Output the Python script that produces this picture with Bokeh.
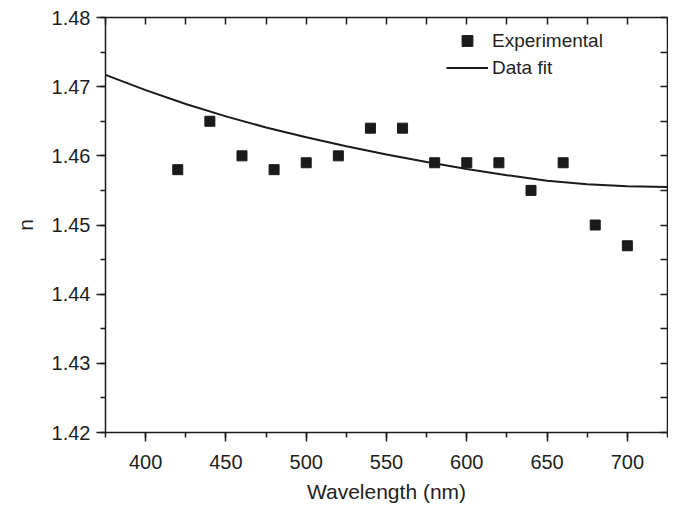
from bokeh.plotting import figure
from bokeh.models import (LinearAxis, SingleIntervalTicker, Legend, LegendItem,
                          Range1d, ColumnDataSource, PrintfTickFormatter)
from bokeh.embed import file_html
from bokeh.resources import INLINE

# experimental data
wavelength = [420, 440, 460, 480, 500, 520, 540, 560, 580, 600, 620, 640, 660, 680, 700]
n_exp = [1.458, 1.465, 1.460, 1.458, 1.459, 1.460, 1.464, 1.464, 1.459, 1.459,
         1.459, 1.455, 1.459, 1.450, 1.447]

# fitted curve
fit_wavelength = [375, 400, 425, 450, 475, 500, 525, 550, 575, 600, 625, 650, 675, 700, 725]
n_fit = [1.4717, 1.4695, 1.4675, 1.4657, 1.4641, 1.4627, 1.4614, 1.4602, 1.4591,
         1.4581, 1.4572, 1.4564, 1.4559, 1.4556, 1.4555]

x_label = "Wavelength (nm)"
y_label = "n"
series_names = ["Experimental", "Data fit"]

FONT = "Liberation Sans"
TXT = "#1e1e1e"

p = figure(width=668, height=505, output_backend="svg", toolbar_location=None,
           x_range=Range1d(375, 725), y_range=Range1d(1.42, 1.48),
           min_border_left=105, min_border_top=17, min_border_right=1, min_border_bottom=71)
p.grid.visible = False
p.outline_line_color = None
p.background_fill_color = "white"

src_exp = ColumnDataSource(dict(x=wavelength, y=n_exp))
src_fit = ColumnDataSource(dict(x=fit_wavelength, y=n_fit))

ln = p.line("x", "y", source=src_fit, line_color="#1a1a1a", line_width=2)
sc = p.scatter("x", "y", source=src_exp, marker="square", size=10,
               fill_color="#1a1a1a", line_color="#1a1a1a")

# bottom axis
xa = p.xaxis[0]
xa.ticker = SingleIntervalTicker(interval=50, num_minor_ticks=2)
xa.axis_label = x_label
# left axis
ya = p.yaxis[0]
ya.ticker = SingleIntervalTicker(interval=0.01, num_minor_ticks=2)
ya.formatter = PrintfTickFormatter(format="%.2f")
ya.axis_label = y_label

for ax in (xa, ya):
    ax.axis_line_width = 1.5
    ax.axis_line_color = "#1a1a1a"
    ax.major_tick_line_color = "#1a1a1a"
    ax.minor_tick_line_color = "#1a1a1a"
    ax.major_tick_line_width = 1.5
    ax.minor_tick_line_width = 1.5
    ax.major_tick_in = 0
    ax.major_tick_out = 9
    ax.minor_tick_in = 0
    ax.minor_tick_out = 5
    ax.major_label_text_font = FONT
    ax.major_label_text_font_size = "20px"
    ax.major_label_text_color = TXT
    ax.axis_label_text_font = FONT
    ax.axis_label_text_font_size = "21px"
    ax.axis_label_text_font_style = "normal"
    ax.axis_label_text_color = TXT

xa.major_label_standoff = 13
xa.axis_label_standoff = 8
ya.major_label_standoff = 6
ya.axis_label_standoff = 12

# mirror axes (top, right) with inward ticks
top = LinearAxis(ticker=SingleIntervalTicker(interval=25, num_minor_ticks=0))
right = LinearAxis(ticker=SingleIntervalTicker(interval=0.005, num_minor_ticks=0))
for ax in (top, right):
    ax.axis_line_width = 1.5
    ax.axis_line_color = "#1a1a1a"
    ax.major_tick_line_color = "#1a1a1a"
    ax.major_tick_line_width = 1.5
    ax.major_tick_in = 7
    ax.major_tick_out = 0
    ax.minor_tick_line_color = None
    ax.major_label_text_font_size = "0px"
    ax.major_label_standoff = 0
    ax.major_label_text_color = None
p.add_layout(top, "above")
p.add_layout(right, "right")

legend = Legend(items=[LegendItem(label=series_names[0], renderers=[sc]),
                       LegendItem(label=series_names[1], renderers=[ln])],
                location=(341, 351), glyph_width=42, glyph_height=27, label_height=27,
                spacing=0, padding=0, margin=0, border_line_color=None,
                background_fill_alpha=0, label_text_font=FONT,
                label_text_font_size="19px", label_text_color=TXT, label_standoff=4)
p.add_layout(legend)

open("out.html", "w").write(file_html(p, INLINE))
